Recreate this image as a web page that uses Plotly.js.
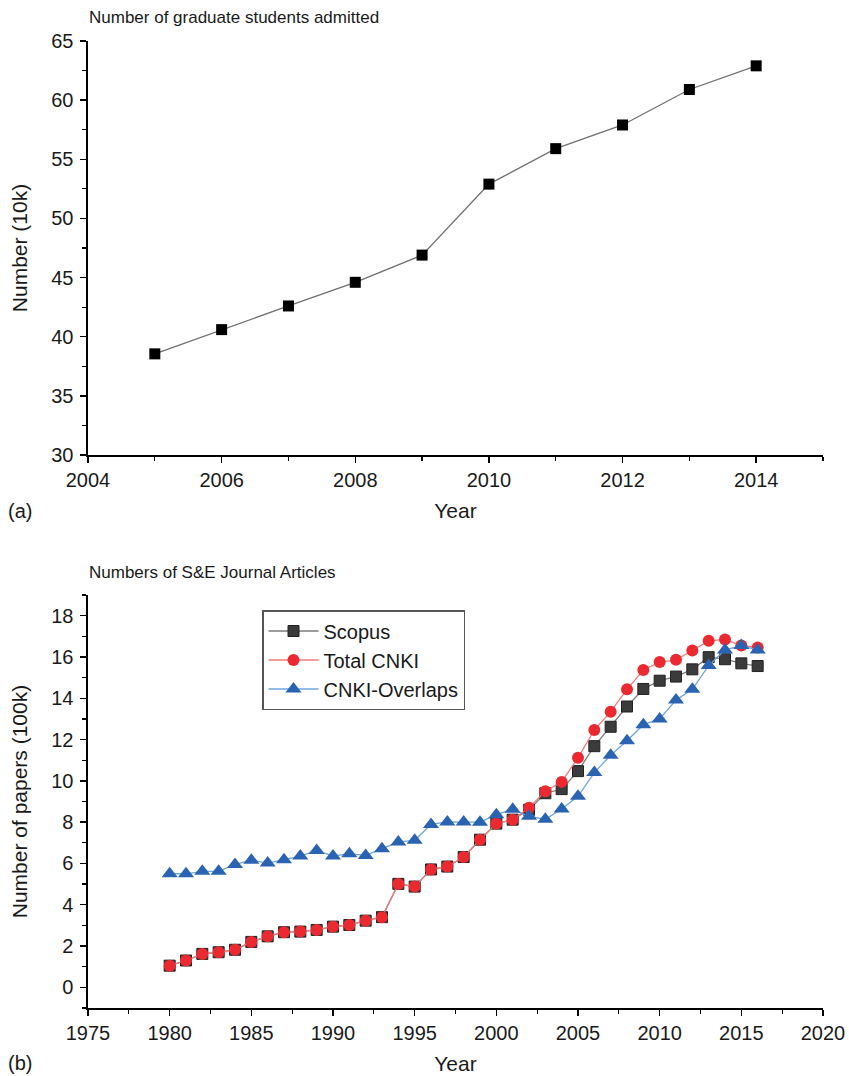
<!DOCTYPE html>
<html>
<head>
<meta charset="utf-8">
<script src="https://cdn.plot.ly/plotly-3.0.1.min.js"></script>
<style>
  html, body { margin: 0; padding: 0; background: #ffffff; }
  #chart { width: 849px; height: 1076px; }
</style>
</head>
<body>
<div id="chart"></div>
<script>
// ---- Panel (a): graduate students admitted ----
const gradYears = [2005, 2006, 2007, 2008, 2009, 2010, 2011, 2012, 2013, 2014];
const gradAdmitted = [38.55, 40.6, 42.6, 44.6, 46.9, 52.9, 55.9, 57.9, 60.9, 62.9];

// ---- Panel (b): S&E journal articles ----
const paperYears = [1980, 1981, 1982, 1983, 1984, 1985, 1986, 1987, 1988, 1989,
                    1990, 1991, 1992, 1993, 1994, 1995, 1996, 1997, 1998, 1999,
                    2000, 2001, 2002, 2003, 2004, 2005, 2006, 2007, 2008, 2009,
                    2010, 2011, 2012, 2013, 2014, 2015, 2016];
const scopus = [1.05, 1.30, 1.62, 1.70, 1.82, 2.20, 2.47, 2.67, 2.70, 2.78,
                2.94, 3.02, 3.23, 3.40, 5.01, 4.88, 5.71, 5.85, 6.31, 7.15,
                7.93, 8.12, 8.60, 9.40, 9.60, 10.47, 11.68, 12.62, 13.60, 14.45,
                14.85, 15.05, 15.40, 15.99, 15.89, 15.69, 15.56];
const totalCNKI = [1.05, 1.30, 1.62, 1.70, 1.82, 2.20, 2.47, 2.67, 2.70, 2.78,
                   2.94, 3.02, 3.23, 3.40, 5.01, 4.88, 5.71, 5.85, 6.31, 7.15,
                   7.93, 8.12, 8.70, 9.50, 9.95, 11.12, 12.46, 13.35, 14.43, 15.37,
                   15.75, 15.86, 16.31, 16.78, 16.85, 16.55, 16.46];
const cnkiOverlaps = [5.50, 5.50, 5.62, 5.62, 5.95, 6.16, 6.02, 6.18, 6.36, 6.63,
                      6.36, 6.47, 6.39, 6.71, 7.04, 7.12, 7.89, 8.01, 8.01, 8.00,
                      8.36, 8.62, 8.28, 8.14, 8.64, 9.25, 10.40, 11.24, 11.94, 12.72,
                      13.00, 13.91, 14.43, 15.58, 16.34, 16.55, 16.34];

const seriesNames = ['Scopus', 'Total CNKI', 'CNKI-Overlaps'];
const titleA = 'Number of graduate students admitted';
const titleB = 'Numbers of S&amp;E Journal Articles';

const FONT = 'Liberation Sans, Arial, sans-serif';
const W = 849, H = 1076;
const px = v => v / W;
const py = v => 1 - v / H;

const traces = [
  {
    x: gradYears, y: gradAdmitted, xaxis: 'x', yaxis: 'y',
    type: 'scatter', mode: 'lines+markers', showlegend: false,
    name: 'Graduate students',
    line: { color: '#707070', width: 1.3 },
    marker: { symbol: 'square', size: 11, color: '#000000' }
  },
  {
    x: paperYears, y: scopus, xaxis: 'x2', yaxis: 'y2',
    type: 'scatter', mode: 'lines+markers', name: seriesNames[0],
    line: { color: '#7d7d7d', width: 1.3 },
    marker: { symbol: 'square', size: 11, color: '#3b3b3b', line: { color: '#222', width: 1 } }
  },
  {
    x: paperYears, y: totalCNKI, xaxis: 'x2', yaxis: 'y2',
    type: 'scatter', mode: 'lines+markers', name: seriesNames[1],
    line: { color: '#f27b7b', width: 1.3 },
    marker: { symbol: 'circle', size: 12, color: '#ea2a30' }
  },
  {
    x: paperYears, y: cnkiOverlaps, xaxis: 'x2', yaxis: 'y2',
    type: 'scatter', mode: 'lines+markers', name: seriesNames[2],
    line: { color: '#6ea5df', width: 1.3 },
    marker: { symbol: 'triangle-up', size: 14, color: '#2b63b3' }
  }
];

const axisCommon = {
  showline: true, linecolor: '#000', linewidth: 1.6,
  ticks: 'outside', ticklen: 6, tickwidth: 1.4, tickcolor: '#000',
  showgrid: false, zeroline: false,
  tickfont: { family: FONT, size: 20, color: '#1a1a1a' },
  mirror: false
};
const titleFont = { family: FONT, size: 21, color: '#1a1a1a' };
const minorX = d => ({ dtick: d, ticks: 'outside', ticklen: 4, tickcolor: '#000', tickwidth: 1.2 });

const layout = {
  width: W, height: H,
  margin: { l: 0, r: 0, t: 0, b: 0 },
  paper_bgcolor: '#ffffff', plot_bgcolor: '#ffffff',
  font: { family: FONT, color: '#1a1a1a' },
  showlegend: true,
  legend: {
    x: px(262), y: py(610), xanchor: 'left', yanchor: 'top',
    bordercolor: '#555555', borderwidth: 1.5, bgcolor: '#ffffff',
    font: { family: FONT, size: 20, color: '#1a1a1a' },
    tracegroupgap: 0, itemwidth: 50
  },
  xaxis: Object.assign({}, axisCommon, {
    domain: [px(88), px(823)], anchor: 'y',
    range: [2004, 2015], dtick: 2, tick0: 2004,
    minor: minorX(1),
    title: { text: 'Year', font: titleFont, standoff: 14 }
  }),
  yaxis: Object.assign({}, axisCommon, {
    domain: [py(455), py(41)], anchor: 'x',
    range: [30, 65], dtick: 5, tick0: 30,
    ticklabelstandoff: 3,
    minor: minorX(2.5),
    title: { text: 'Number (10k)', font: titleFont, standoff: 18 }
  }),
  xaxis2: Object.assign({}, axisCommon, {
    domain: [px(88), px(823)], anchor: 'y2',
    range: [1975, 2020], dtick: 5, tick0: 1975,
    minor: minorX(2.5),
    title: { text: 'Year', font: titleFont, standoff: 14 }
  }),
  yaxis2: Object.assign({}, axisCommon, {
    domain: [py(1008), py(595)], anchor: 'x2',
    range: [-1, 19], dtick: 2, tick0: 0,
    ticklabelstandoff: 3,
    minor: minorX(1),
    title: { text: 'Number of papers (100k)', font: titleFont, standoff: 18 }
  }),
  annotations: [
    { text: titleA, xref: 'paper', yref: 'paper', x: px(87), y: py(17),
      xanchor: 'left', yanchor: 'middle', showarrow: false,
      font: { family: FONT, size: 17, color: '#1a1a1a' } },
    { text: titleB, xref: 'paper', yref: 'paper', x: px(87), y: py(572),
      xanchor: 'left', yanchor: 'middle', showarrow: false,
      font: { family: FONT, size: 17, color: '#1a1a1a' } },
    { text: '(a)', xref: 'paper', yref: 'paper', x: px(6), y: py(511),
      xanchor: 'left', yanchor: 'middle', showarrow: false,
      font: { family: FONT, size: 20, color: '#1a1a1a' } },
    { text: '(b)', xref: 'paper', yref: 'paper', x: px(6), y: py(1063),
      xanchor: 'left', yanchor: 'middle', showarrow: false,
      font: { family: FONT, size: 20, color: '#1a1a1a' } }
  ]
};

Plotly.newPlot('chart', traces, layout, { staticPlot: true, displayModeBar: false });
</script>
</body>
</html>
